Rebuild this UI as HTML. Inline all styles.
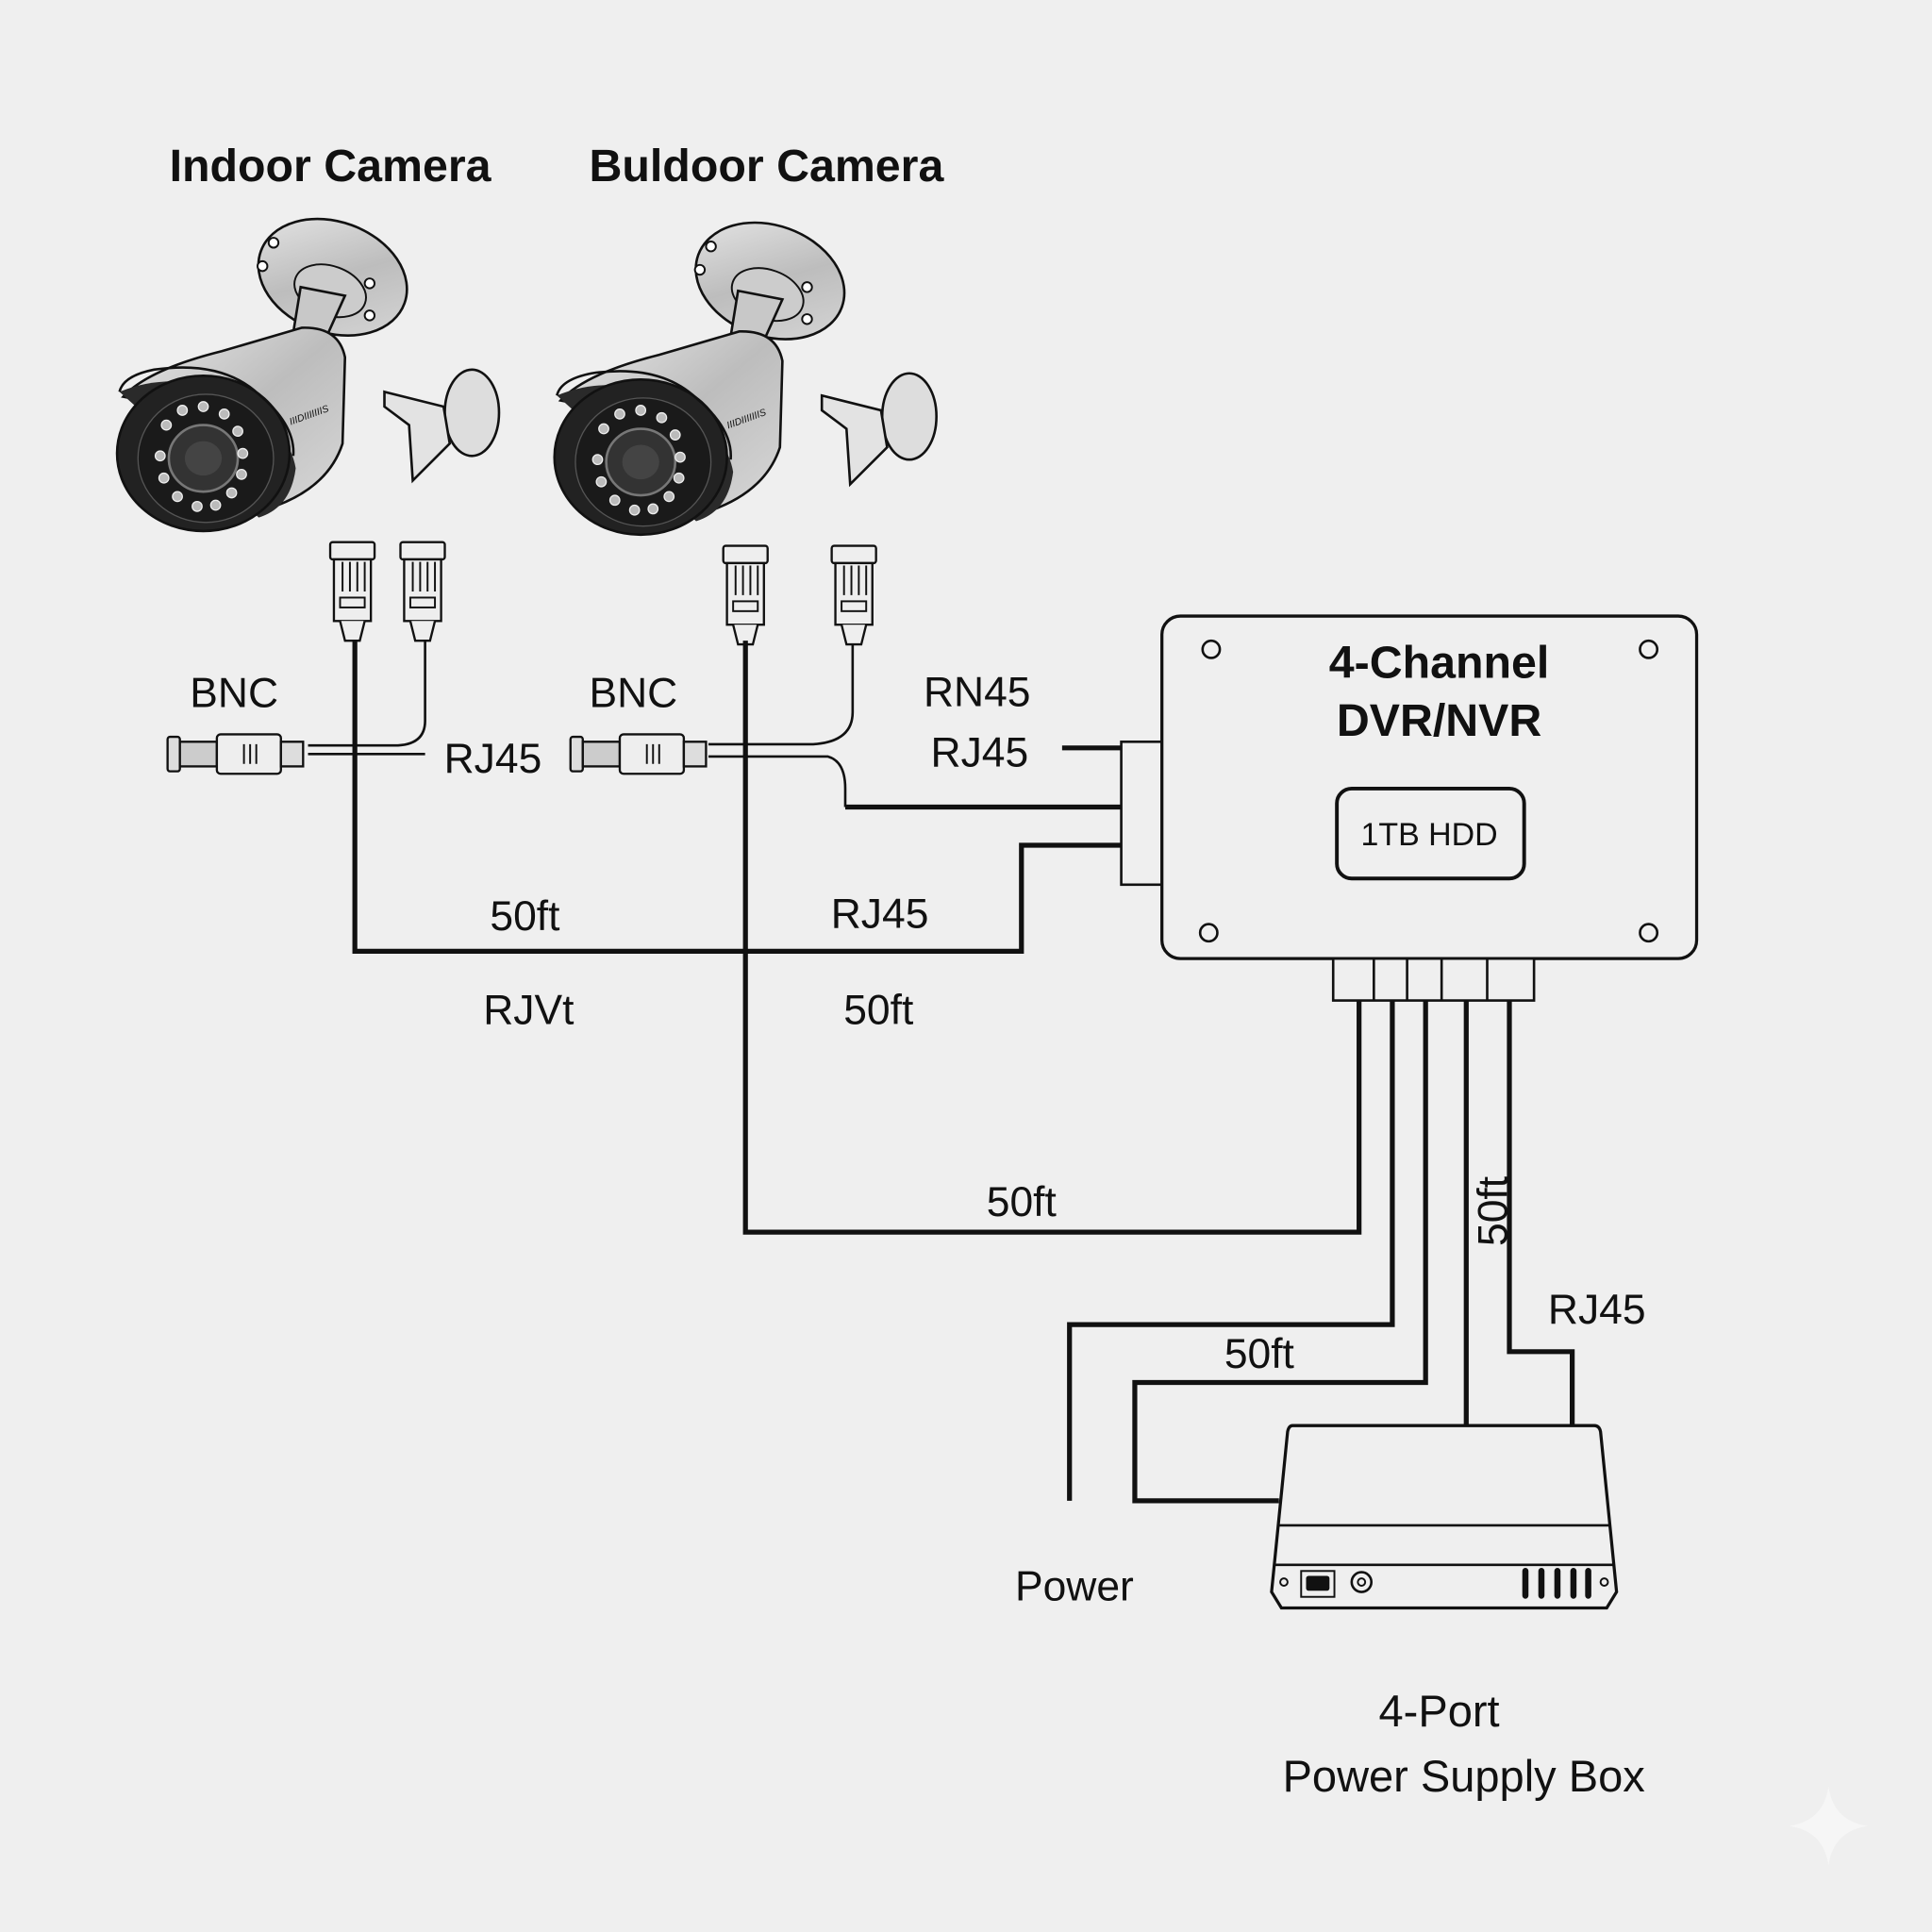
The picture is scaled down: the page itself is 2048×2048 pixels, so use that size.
<!DOCTYPE html>
<html><head><meta charset="utf-8"><style>
html,body{margin:0;padding:0;background:#efefef}
svg{display:block}
text{font-family:"Liberation Sans","DejaVu Sans",sans-serif;fill:#111}
</style></head><body>
<svg width="2048" height="2048" viewBox="0 0 1568 1568" xmlns="http://www.w3.org/2000/svg">
<defs>
<linearGradient id="sil" x1="0" y1="0" x2="1" y2="1"><stop offset="0" stop-color="#e8e8e8"/><stop offset="0.5" stop-color="#bdbdbd"/><stop offset="1" stop-color="#d8d8d8"/></linearGradient>
<g id="cam">
  <ellipse cx="270" cy="225" rx="62" ry="45" transform="rotate(20 270 225)" fill="url(#sil)" stroke="#111" stroke-width="2"/>
  <ellipse cx="268" cy="236" rx="30" ry="20" transform="rotate(20 268 236)" fill="#ccc" stroke="#111" stroke-width="1.5"/>
  <circle cx="222" cy="197" r="4" fill="#fff" stroke="#111" stroke-width="1.5"/>
  <circle cx="213" cy="216" r="4" fill="#fff" stroke="#111" stroke-width="1.5"/>
  <circle cx="300" cy="230" r="4" fill="#fff" stroke="#111" stroke-width="1.5"/>
  <circle cx="300" cy="256" r="4" fill="#fff" stroke="#111" stroke-width="1.5"/>
  <path d="M244 233 L280 240 L262 280 L238 270 Z" fill="#c8c8c8" stroke="#111" stroke-width="2"/>
  <path d="M100 322 Q120 300 180 285 L245 266 Q275 265 280 290 L278 360 Q265 400 210 415 L140 330 Z" fill="url(#sil)" stroke="#111" stroke-width="2"/>
  <path d="M97 318 Q140 300 195 320 Q235 350 240 380 Q236 412 210 420 Z" fill="#2a2a2a"/>
  <ellipse cx="165" cy="368" rx="70" ry="63" fill="#222" stroke="#111" stroke-width="2"/>
  <ellipse cx="167" cy="372" rx="55" ry="52" fill="#1a1a1a" stroke="#555" stroke-width="1"/>
  <ellipse cx="165" cy="372" rx="28" ry="27" fill="#333" stroke="#777" stroke-width="2"/>
  <ellipse cx="165" cy="372" rx="15" ry="14" fill="#444"/>
  <g fill="#bbb" stroke="#eee" stroke-width="1">
    <circle cx="135" cy="345" r="4"/><circle cx="148" cy="333" r="4"/><circle cx="165" cy="330" r="4"/><circle cx="182" cy="336" r="4"/><circle cx="193" cy="350" r="4"/><circle cx="197" cy="368" r="4"/><circle cx="196" cy="385" r="4"/><circle cx="188" cy="400" r="4"/><circle cx="175" cy="410" r="4"/><circle cx="160" cy="411" r="4"/><circle cx="144" cy="403" r="4"/><circle cx="133" cy="388" r="4"/><circle cx="130" cy="370" r="4"/>
  </g>
  <path d="M97 318 Q100 305 125 300 Q180 292 210 320 Q240 345 238 370" fill="none" stroke="#111" stroke-width="2"/>
  <text x="236" y="345" font-size="8" transform="rotate(-20 236 345)" font-style="italic">IIIDIIIIIIIS</text>
  <ellipse cx="383" cy="335" rx="22" ry="35" fill="#ddd" stroke="#111" stroke-width="2"/>
  <path d="M312 318 L360 330 L365 360 L335 390 L332 345 L312 330 Z" fill="#e3e3e3" stroke="#111" stroke-width="2"/>
</g>
<g id="rj">
  <rect x="0" y="0" width="36" height="14" rx="2" fill="#eee" stroke="#111" stroke-width="1.8"/>
  <rect x="3" y="14" width="30" height="50" fill="#eee" stroke="#111" stroke-width="1.8"/>
  <path d="M10 16 V40 M16 16 V40 M22 16 V40 M28 16 V40" stroke="#111" stroke-width="1.5"/>
  <rect x="8" y="45" width="20" height="8" fill="none" stroke="#111" stroke-width="1.5"/>
  <path d="M8 64 L12 80 H24 L28 64" fill="#eee" stroke="#111" stroke-width="1.8"/>
</g>
<g id="bnc">
  <rect x="0" y="4" width="10" height="28" rx="2" fill="#ddd" stroke="#111" stroke-width="1.8"/>
  <rect x="10" y="8" width="30" height="20" fill="#ccc" stroke="#111" stroke-width="1.8"/>
  <rect x="40" y="2" width="52" height="32" rx="3" fill="#eee" stroke="#111" stroke-width="1.8"/>
  <path d="M62 10 V26 M67 10 V26 M72 10 V26" stroke="#111" stroke-width="1.5"/>
  <rect x="92" y="8" width="18" height="20" fill="#ddd" stroke="#111" stroke-width="1.8"/>
</g>
</defs>

<text x="268" y="147" font-size="37" font-weight="bold" text-anchor="middle">Indoor Camera</text>
<text x="622" y="147" font-size="37" font-weight="bold" text-anchor="middle">Buldoor Camera</text>

<use href="#cam"/>
<use href="#cam" transform="translate(355 3)"/>

<g fill="none" stroke="#111" stroke-width="2">
  <path d="M345 515 V585 Q345 605 320 605 H250"/>
  <path d="M250 612 H345"/>
  <path d="M692 518 V578 Q692 602 660 604 H575"/>
  <path d="M575 614 H672 Q686 618 686 640 V655"/>
</g>
<use href="#rj" transform="translate(268 440)"/>
<use href="#rj" transform="translate(325 440)"/>
<use href="#rj" transform="translate(587 443)"/>
<use href="#rj" transform="translate(675 443)"/>
<use href="#bnc" transform="translate(136 594)"/>
<use href="#bnc" transform="translate(463 594)"/>

<g fill="none" stroke="#111" stroke-width="4">
  <path d="M288 520 V772 H829 V686 H910"/>
  <path d="M605 520 V1000 H1103 V812"/>
  <path d="M686 655 H910"/>
  <path d="M862 607 H910"/>
  <path d="M1130 812 V1075 H868 V1218"/>
  <path d="M1157 812 V1122 H921 V1218 H1038"/>
  <path d="M1190 812 V1157"/>
  <path d="M1225 812 V1097 H1276 V1157"/>
</g>

<rect x="910" y="602" width="33" height="116" fill="#efefef" stroke="#111" stroke-width="2"/>
<rect x="943" y="500" width="434" height="278" rx="15" fill="#efefef" stroke="#111" stroke-width="2.5"/>
<g fill="none" stroke="#111" stroke-width="2">
<circle cx="983" cy="527" r="7"/><circle cx="1338" cy="527" r="7"/><circle cx="981" cy="757" r="7"/><circle cx="1338" cy="757" r="7"/>
</g>
<rect x="1085" y="640" width="152" height="73" rx="12" fill="none" stroke="#111" stroke-width="3"/>
<text x="1160" y="686" font-size="26" text-anchor="middle">1TB HDD</text>
<text x="1168" y="550" font-size="37" font-weight="bold" text-anchor="middle">4-Channel</text>
<text x="1168" y="597" font-size="37" font-weight="bold" text-anchor="middle">DVR/NVR</text>
<rect x="1082" y="778" width="163" height="34" fill="#efefef" stroke="#111" stroke-width="2"/>
<path d="M1115 778 V812 M1142 778 V812 M1170 778 V812 M1207 778 V812" stroke="#111" stroke-width="2"/>

<path d="M1049 1157 H1294 Q1298 1157 1299 1162 L1312 1292 L1304 1305 H1040 L1032 1292 L1045 1162 Q1046 1157 1049 1157 Z" fill="#efefef" stroke="#111" stroke-width="2.5"/>
<path d="M1037 1238 H1306 M1034 1270 H1310" stroke="#111" stroke-width="2"/>
<circle cx="1042" cy="1284" r="3" fill="none" stroke="#111" stroke-width="1.5"/>
<rect x="1056" y="1275" width="27" height="21" fill="none" stroke="#111" stroke-width="1.5"/>
<rect x="1060" y="1279" width="19" height="12" rx="2" fill="#111"/>
<circle cx="1105" cy="1284" r="8" fill="none" stroke="#111" stroke-width="2"/>
<circle cx="1105" cy="1284" r="3" fill="none" stroke="#111" stroke-width="1.5"/>
<path d="M1238 1275 V1295 M1251 1275 V1295 M1264 1275 V1295 M1277 1275 V1295 M1289 1275 V1295" stroke="#111" stroke-width="5" stroke-linecap="round"/>
<circle cx="1302" cy="1284" r="3" fill="none" stroke="#111" stroke-width="1.5"/>

<g font-size="34">
<text x="190" y="574" text-anchor="middle">BNC</text>
<text x="514" y="574" text-anchor="middle">BNC</text>
<text x="400" y="627" text-anchor="middle">RJ45</text>
<text x="793" y="573" text-anchor="middle">RN45</text>
<text x="795" y="622" text-anchor="middle">RJ45</text>
<text x="426" y="755" text-anchor="middle">50ft</text>
<text x="714" y="753" text-anchor="middle">RJ45</text>
<text x="429" y="831" text-anchor="middle">RJVt</text>
<text x="713" y="831" text-anchor="middle">50ft</text>
<text x="829" y="987" text-anchor="middle">50ft</text>
<text x="1022" y="1110" text-anchor="middle">50ft</text>
<text x="1296" y="1074" text-anchor="middle">RJ45</text>
<text x="1209" y="997" text-anchor="middle" transform="rotate(-90 1209 983)">50ft</text>
<text x="872" y="1299" text-anchor="middle">Power</text>
<text x="1168" y="1401" text-anchor="middle" font-size="36">4-Port</text>
<text x="1188" y="1454" text-anchor="middle" font-size="36">Power Supply Box</text>
</g>
<path d="M1484 1450 Q1488 1478 1516 1482 Q1488 1486 1484 1514 Q1480 1486 1452 1482 Q1480 1478 1484 1450 Z" fill="#f6f6f6"/>
</svg>
</body></html>
